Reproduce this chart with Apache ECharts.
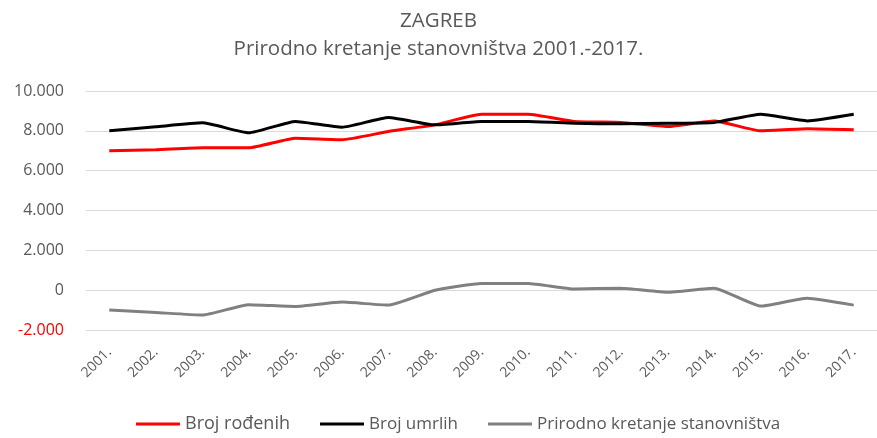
<!DOCTYPE html>
<html>
<head>
<meta charset="utf-8">
<script src="https://cdn.jsdelivr.net/npm/echarts@6/dist/echarts.min.js"></script>
<style>
  html, body { margin: 0; padding: 0; background: #fff; }
  #chart { width: 877px; height: 438px; }
</style>
</head>
<body>
<div id="chart"></div>
<script>
  // podaci
  let years = ['2001.', '2002.', '2003.', '2004.', '2005.', '2006.', '2007.', '2008.', '2009.',
    '2010.', '2011.', '2012.', '2013.', '2014.', '2015.', '2016.', '2017.']
  let rodeni = [7000, 7050, 7150, 7150, 7630, 7550, 7970, 8300, 8830, 8830, 8470, 8420, 8220, 8500, 8000, 8100, 8050]
  let umrli = [8000, 8200, 8400, 7900, 8470, 8180, 8670, 8300, 8470, 8470, 8380, 8350, 8380, 8420, 8830, 8500, 8830]
  let prirodno = [-1000, -1120, -1250, -730, -820, -600, -750, 0, 340, 340, 60, 100, -100, 100, -800, -400, -750]

  let font = 'Open Sans'
  let gray = '#595959'

  let myChart = echarts.init(document.getElementById('chart'))
  let option = {
    animation: false,
    title: {
      text: 'ZAGREB\nPrirodno kretanje stanovništva 2001.-2017.',
      left: 'center',
      top: 2,
      textStyle: {
        fontFamily: font,
        fontSize: 20.5,
        fontWeight: 'normal',
        color: gray,
        lineHeight: 28
      }
    },
    legend: {
      top: 410,
      left: 131,
      icon: 'rect',
      itemWidth: 44,
      itemHeight: 3,
      itemGap: 30,
      textStyle: { fontFamily: font, fontSize: 17, color: gray },
      data: [
        { name: 'Broj rođenih', textStyle: { fontSize: 18 } },
        { name: 'Broj umrlih' },
        { name: 'Prirodno kretanje stanovništva' }
      ]
    },
    grid: {
      left: 86,
      right: 0,
      top: 91,
      bottom: 108
    },
    xAxis: {
      type: 'category',
      data: years,
      axisLine: { show: false },
      axisTick: { show: false },
      axisLabel: {
        interval: 0,
        rotate: 45,
        margin: 20,
        fontFamily: font,
        fontSize: 14,
        color: gray
      }
    },
    yAxis: {
      type: 'value',
      min: -2000,
      max: 10000,
      interval: 2000,
      axisLine: { show: false },
      axisTick: { show: false },
      splitLine: { lineStyle: { color: '#d9d9d9' } },
      axisLabel: {
        margin: 22,
        fontFamily: font,
        fontSize: 16,
        color: function (v) {
          return v < 0 ? '#ff0000' : gray
        },
        formatter: function (v) {
          let s = Math.abs(v).toString().replace(/\B(?=(\d{3})+(?!\d))/g, '.')
          return (v < 0 ? '-' : '') + s
        }
      }
    },
    series: [
      {
        name: 'Broj rođenih',
        type: 'line',
        data: rodeni,
        symbol: 'none',
        smooth: 0.15,
        color: '#ff0000',
        lineStyle: { width: 3 }
      },
      {
        name: 'Broj umrlih',
        type: 'line',
        data: umrli,
        symbol: 'none',
        smooth: 0.15,
        color: '#000000',
        lineStyle: { width: 3 }
      },
      {
        name: 'Prirodno kretanje stanovništva',
        type: 'line',
        data: prirodno,
        symbol: 'none',
        smooth: 0.15,
        color: '#808080',
        lineStyle: { width: 3 }
      }
    ]
  }
  myChart.setOption(option)
</script>
</body>
</html>
